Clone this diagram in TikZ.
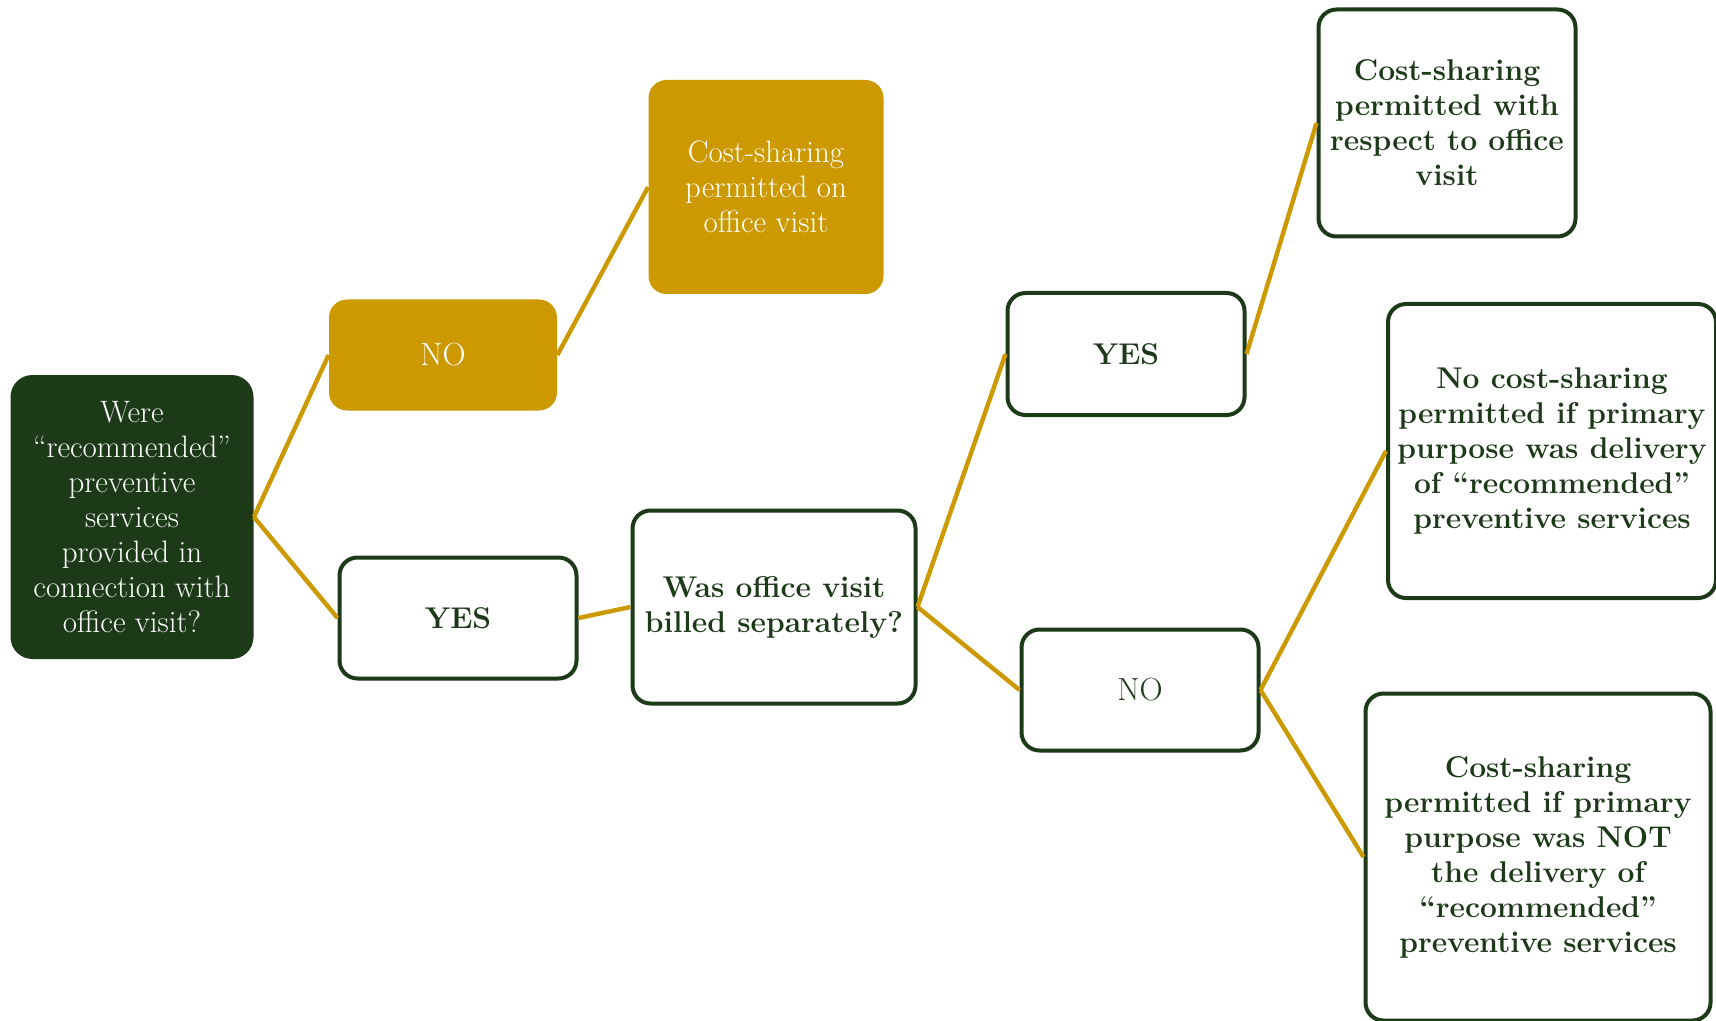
\documentclass[tikz,border=0pt]{standalone}
\usepackage{fontspec}
\usetikzlibrary{positioning}
\definecolor{darkgreen}{RGB}{28,58,24}
\definecolor{mustard}{RGB}{204,153,0}

\begin{document}
\begin{tikzpicture}[x=0.5pt, y=-0.5pt,
    box/.style={rounded corners=9pt, align=center, inner sep=0pt, font=\fontsize{15.5}{17.5}\selectfont},
    greenbox/.style={box, fill=darkgreen, text=white, rounded corners=11pt},
    goldbox/.style={box, fill=mustard, text=white},
    whitebox/.style={box, draw=darkgreen, line width=2pt, fill=white, text=darkgreen},
    boldbox/.style={whitebox, font=\fontsize{15}{17.5}\selectfont\bfseries},
    link/.style={draw=mustard, line width=2.2pt}]

    \useasboundingbox (0,0) rectangle (1716,1021);

    % question on the left
    \node[greenbox, minimum width=121.5pt, minimum height=142pt] (root) at (132,517)
        {Were\\``recommended''\\preventive\\services\\provided in\\connection with\\office visit?};

    % upper branch
    \node[goldbox, minimum width=114pt, minimum height=55.5pt, font=\fontsize{16}{17.5}\selectfont] (no1) at (443,355) {NO};
    \node[goldbox, minimum width=117.5pt, minimum height=107pt] (onvisit) at (766,187)
        {Cost-sharing\\permitted on\\office visit};

    % lower branch
    \node[boldbox, minimum width=118.5pt, minimum height=60.5pt] (yes1) at (458,618) {YES};
    \node[boldbox, minimum width=141.5pt, minimum height=96.5pt] (billed) at (774,607)
        {Was office visit\\billed separately?};

    \node[boldbox, minimum width=118.5pt, minimum height=61pt] (yes2) at (1126,354) {YES};
    \node[boldbox, minimum width=128.5pt, minimum height=113.5pt] (withvisit) at (1447,123)
        {Cost-sharing\\permitted with\\respect to office\\visit};

    \node[whitebox, minimum width=118.5pt, minimum height=60.5pt, font=\fontsize{16}{17.5}\selectfont] (no2) at (1140,690) {NO};
    \node[boldbox, minimum width=164pt, minimum height=147pt] (nocost) at (1552,451)
        {No cost-sharing\\permitted if primary\\purpose was delivery\\of ``recommended''\\preventive services};
    \node[boldbox, minimum width=172.5pt, minimum height=163.5pt] (cost) at (1538,857)
        {Cost-sharing\\permitted if primary\\purpose was NOT\\the delivery of\\``recommended''\\preventive services};

    % connectors
    \draw[link] (root.east) -- (no1.west);
    \draw[link] (root.east) -- (yes1.west);
    \draw[link] (no1.east) -- (onvisit.west);
    \draw[link] (yes1.east) -- (billed.west);
    \draw[link] (billed.east) -- (yes2.west);
    \draw[link] (billed.east) -- (no2.west);
    \draw[link] (yes2.east) -- (withvisit.west);
    \draw[link] (no2.east) -- (nocost.west);
    \draw[link] (no2.east) -- (cost.west);

\end{tikzpicture}
\end{document}
